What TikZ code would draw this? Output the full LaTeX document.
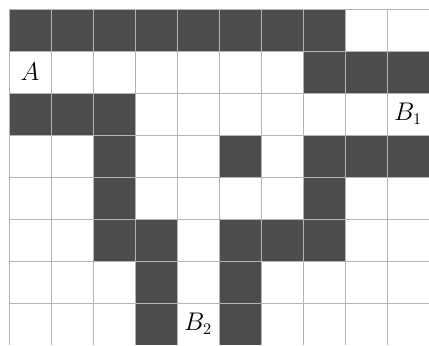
\documentclass[tikz,border=0pt]{standalone}
\definecolor{wallc}{HTML}{4D4D4D}
\definecolor{gridc}{HTML}{B3B3B3}
\tikzset{
  wall/.style={fill=wallc, draw=none},
  gridline/.style={draw=gridc, line width=0.6pt},
  lab/.style={font=\fontsize{16}{19}\selectfont, inner sep=0pt}
}
\begin{document}
\begin{tikzpicture}[x=1cm,y=-1cm]
\useasboundingbox (-0.214,-0.214) rectangle (10,8);
\fill[white] (-0.214,-0.214) rectangle (10,8);
% walls: row, list of columns
\foreach \r/\cs in {0/{0,1,2,3,4,5,6,7},1/{7,8,9},2/{0,1,2},3/{2,5,7,8,9},4/{2,7},5/{2,3,5,6,7},6/{3,5},7/{3,5}}{
  \foreach \c in \cs { \fill[wall] (\c,\r) rectangle ++(1,1); }
}
\foreach \i in {0,...,9} { \draw[gridline] (\i,0) -- (\i,8); }
\foreach \j in {0,...,7} { \draw[gridline] (0,\j) -- (10,\j); }
\node[lab] (A) at (0.5,1.5) {$A$};
\node[lab] (B1) at (9.5,2.5) {$B_1$};
\node[lab] (B2) at (4.5,7.5) {$B_2$};
\end{tikzpicture}
\end{document}
